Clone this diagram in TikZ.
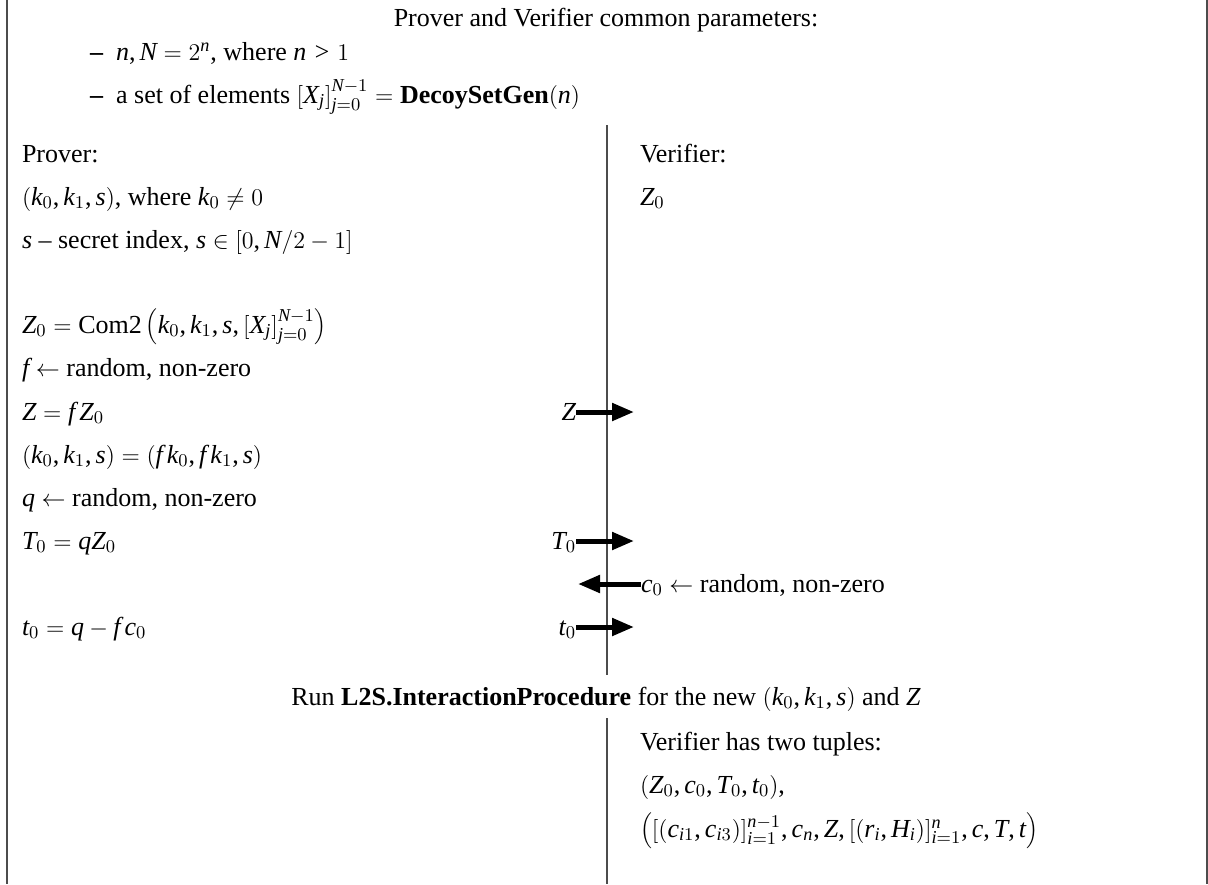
\documentclass[tikz,border=0pt]{standalone}
\usepackage{fontspec}
\setmainfont{Liberation Serif}
\makeatletter
\edef\tmpfam{\rmdefault}
\begingroup\edef\x{\endgroup
  \noexpand\DeclareSymbolFont{letters}{TU}{\tmpfam}{m}{it}%
  \noexpand\DeclareSymbolFont{operators}{TU}{\tmpfam}{m}{n}}\x
\makeatother
\DeclareMathSymbol{,}{\mathpunct}{operators}{`,}
\DeclareMathSymbol{/}{\mathord}{operators}{`/}
\usetikzlibrary{arrows.meta}
\begin{document}
\begin{tikzpicture}[x=0.5pt,y=-0.5pt,
  every node/.style={inner sep=0pt,outer sep=0pt,font=\fontsize{13}{15}\selectfont},
  txt/.style={anchor=base west},
  ctr/.style={anchor=base},
  lab/.style={anchor=base east},
  labr/.style={anchor=base west},
  frameline/.style={draw=black!70,line width=1pt},
  msg/.style={line width=2.5pt,-{Triangle[length=11pt,width=8.5pt]}}]
\useasboundingbox (0,0) rectangle (1208,884);
% frame
\coordinate (fl1) at (7,0); \coordinate (fl2) at (7,884);
\coordinate (fr1) at (1206.5,0); \coordinate (fr2) at (1206.5,884);
\draw[frameline] (fl1) -- (fl2);
\draw[frameline] (fr1) -- (fr2);
% common parameters
\node[ctr] (title) at (606,26) {Prover and Verifier common parameters:};
\node[txt] (b1) at (90,60) {\textbf{--}\enspace $n, N = 2^n$, where $n > 1$};
\node[txt] (b2) at (90,103) {\textbf{--}\enspace a set of elements $\bigl[X_j\bigr]_{j=0}^{N-1} = \textbf{DecoySetGen}(n)$};
% separator
\coordinate (v1) at (607,125); \coordinate (v2) at (607,675);
\draw[frameline] (v1) -- (v2);
% prover
\node[txt] (p1) at (22,162) {Prover:};
\node[txt] (p2) at (22,205) {$(k_0, k_1, s)$, where $k_0 \neq 0$};
\node[txt] (p3) at (22,248) {$s$ -- secret index, $s \in [0, N/2-1]$};
\node[txt] (p4) at (22,333) {$Z_0 = \mathrm{Com2}\left(k_0, k_1, s, \bigl[X_j\bigr]_{j=0}^{N-1}\right)$};
\node[txt] (p5) at (22,376) {$f \leftarrow$ random, non-zero};
\node[txt] (p6) at (22,420) {$Z = f\,Z_0$};
\node[txt] (p7) at (22,463) {$(k_0, k_1, s) = (f\,k_0, f\,k_1, s)$};
\node[txt] (p8) at (22,506) {$q \leftarrow$ random, non-zero};
\node[txt] (p9) at (22,549) {$T_0 = qZ_0$};
\node[txt] (p10) at (22,635) {$t_0 = q - f\,c_0$};
% verifier
\node[txt] (q1) at (640,162) {Verifier:};
\node[txt] (q2) at (640,205) {$Z_0$};
% messages
\node[lab] (mz) at (576,420) {$Z$};
\coordinate (mze) at (634,412);
\draw[msg] (mz.east |- mze) -- (mze);
\node[lab] (mt) at (576,549) {$T_0$};
\coordinate (mte) at (634,541);
\draw[msg] (mt.east |- mte) -- (mte);
\node[labr] (mc) at (641,592) {$c_0 \leftarrow$ random, non-zero};
\coordinate (mce) at (578,584);
\draw[msg] (mc.west |- mce) -- (mce);
\node[lab] (ms) at (576,635) {$t_0$};
\coordinate (mse) at (634,627);
\draw[msg] (ms.east |- mse) -- (mse);
% run
\node[ctr] (run) at (606,705) {Run \textbf{L2S.InteractionProcedure} for the new $(k_0, k_1, s)$ and $Z$};
% final
\coordinate (w1) at (607,718); \coordinate (w2) at (607,884);
\draw[frameline] (w1) -- (w2);
\node[txt] (r1) at (640,750) {Verifier has two tuples:};
\node[txt] (r2) at (640,793) {$(Z_0, c_0, T_0, t_0)$,};
\node[txt] (r3) at (640,837) {$\left([(c_{i1}, c_{i3})]_{i=1}^{n-1}, c_n, Z, [(r_i, H_i)]_{i=1}^{n}, c, T, t\right)$};
\end{tikzpicture}
\end{document}
